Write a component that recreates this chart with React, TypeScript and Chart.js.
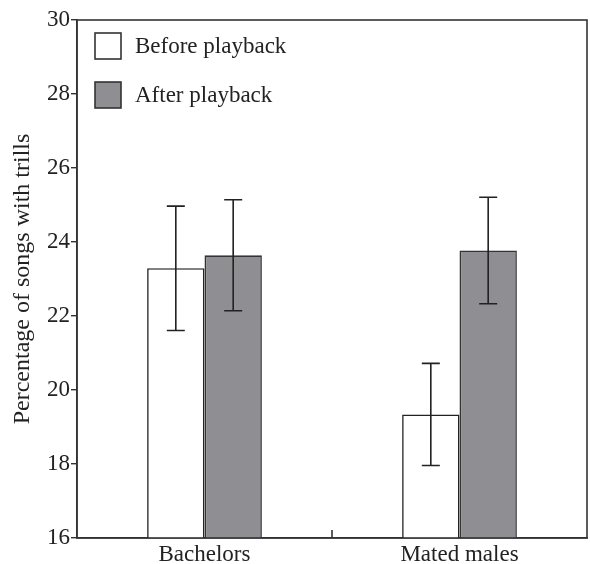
import React, { useEffect, useRef } from "react";
import { Chart, registerables } from "chart.js";

Chart.register(...registerables);

const categories = ["Bachelors", "Mated males"];
const seriesNames = ["Before playback", "After playback"];
const beforeMeans = [23.29, 19.34];
const afterMeans = [23.64, 23.77];
const beforeErr = [1.68, 1.38];
const afterErr = [1.5, 1.44];
const yTicks = [16, 18, 20, 22, 24, 26, 28, 30];

const FONT = "'Liberation Serif', 'DejaVu Serif', serif";
const INK = "#222222";
const GRAY = "#8f8f93";

const errorBarPlugin = {
  id: "errorBars",
  afterDatasetsDraw(chart: any) {
    const ctx = chart.ctx;
    const y = chart.scales.y;
    const errs = [beforeErr, afterErr];
    ctx.save();
    ctx.strokeStyle = INK;
    ctx.lineWidth = 1.6;
    chart.data.datasets.forEach((ds: any, di: number) => {
      const meta = chart.getDatasetMeta(di);
      meta.data.forEach((bar: any, i: number) => {
        const v = ds.data[i];
        const e = errs[di][i];
        const yt = y.getPixelForValue(v + e);
        const yb = y.getPixelForValue(v - e);
        const x = bar.x;
        const cap = 9;
        ctx.beginPath();
        ctx.moveTo(x, yt);
        ctx.lineTo(x, yb);
        ctx.moveTo(x - cap, yt);
        ctx.lineTo(x + cap, yt);
        ctx.moveTo(x - cap, yb);
        ctx.lineTo(x + cap, yb);
        ctx.stroke();
      });
    });
    ctx.restore();
  },
};

const framePlugin = {
  id: "frame",
  afterDraw(chart: any) {
    const { ctx, chartArea } = chart;
    const x = chart.scales.x;
    ctx.save();
    ctx.strokeStyle = "#333333";
    ctx.lineWidth = 1.6;
    ctx.strokeRect(chartArea.left, chartArea.top, chartArea.right - chartArea.left, chartArea.bottom - chartArea.top);
    const mid = (x.getPixelForValue(0) + x.getPixelForValue(1)) / 2;
    ctx.beginPath();
    ctx.moveTo(mid, chartArea.bottom);
    ctx.lineTo(mid, chartArea.bottom - 8);
    ctx.stroke();
    ctx.restore();
  },
};

const legendPlugin = {
  id: "insideLegend",
  afterDraw(chart: any) {
    const { ctx, chartArea } = chart;
    ctx.save();
    chart.data.datasets.forEach((ds: any, i: number) => {
      const bx = chartArea.left + 18;
      const by = chartArea.top + 13 + i * 49;
      const s = 26;
      ctx.fillStyle = ds.backgroundColor;
      ctx.fillRect(bx, by, s, s);
      ctx.strokeStyle = "#333333";
      ctx.lineWidth = 1.6;
      ctx.strokeRect(bx, by, s, s);
      ctx.fillStyle = INK;
      ctx.font = `23px ${FONT}`;
      ctx.textBaseline = "middle";
      ctx.textAlign = "left";
      ctx.fillText(ds.label, bx + s + 14, by + s / 2 + 1);
    });
    ctx.restore();
  },
};

export default function App() {
  const ref = useRef<HTMLCanvasElement | null>(null);
  useEffect(() => {
    document.body.style.margin = "0";
    const chart = new Chart(ref.current as HTMLCanvasElement, {
      type: "bar",
      data: {
        labels: categories,
        datasets: [
          {
            label: seriesNames[0],
            data: beforeMeans,
            backgroundColor: "#ffffff",
            borderColor: "#222222",
            borderWidth: 1.6,
            barPercentage: 1,
            categoryPercentage: 0.45,
          },
          {
            label: seriesNames[1],
            data: afterMeans,
            backgroundColor: GRAY,
            borderColor: "#333333",
            borderWidth: 1.6,
            barPercentage: 1,
            categoryPercentage: 0.45,
          },
        ],
      },
      options: {
        animation: false,
        responsive: false,
        maintainAspectRatio: false,
        layout: { padding: { top: 20, right: 3, left: 0, bottom: 0 } },
        plugins: {
          legend: { display: false },
          tooltip: { enabled: false },
        },
        scales: {
          x: {
            grid: { display: false },
            border: { display: true, color: "#333333", width: 1.6 },
            ticks: {
              color: INK,
              font: { family: FONT, size: 23, lineHeight: 1 },
              padding: -3,
            },
            afterFit(scale: any) {
              scale.height = 26;
            },
          },
          y: {
            min: 16,
            max: 30,
            afterBuildTicks(scale: any) {
              scale.ticks = yTicks.map((v) => ({ value: v }));
            },
            grid: {
              drawOnChartArea: false,
              drawTicks: true,
              tickLength: 6,
              color: "#333333",
              lineWidth: 1.4,
            },
            border: { display: true, color: "#333333", width: 1.6 },
            ticks: {
              color: INK,
              font: { family: FONT, size: 23 },
              padding: 1,
            },
            title: {
              display: true,
              text: "Percentage of songs with trills",
              color: INK,
              font: { family: FONT, size: 24, lineHeight: 1.2 },
              padding: { top: 8, bottom: 4 },
            },
            afterFit(scale: any) {
              scale.width = 77;
            },
          },
        },
      },
      plugins: [errorBarPlugin, framePlugin, legendPlugin],
    });
    return () => chart.destroy();
  }, []);
  return (
    <div style={{ position: "fixed", left: 0, top: 0, width: 590, height: 564, background: "#fff" }}>
      <canvas ref={ref} width={590} height={564} style={{ width: 590, height: 564 }} />
    </div>
  );
}
